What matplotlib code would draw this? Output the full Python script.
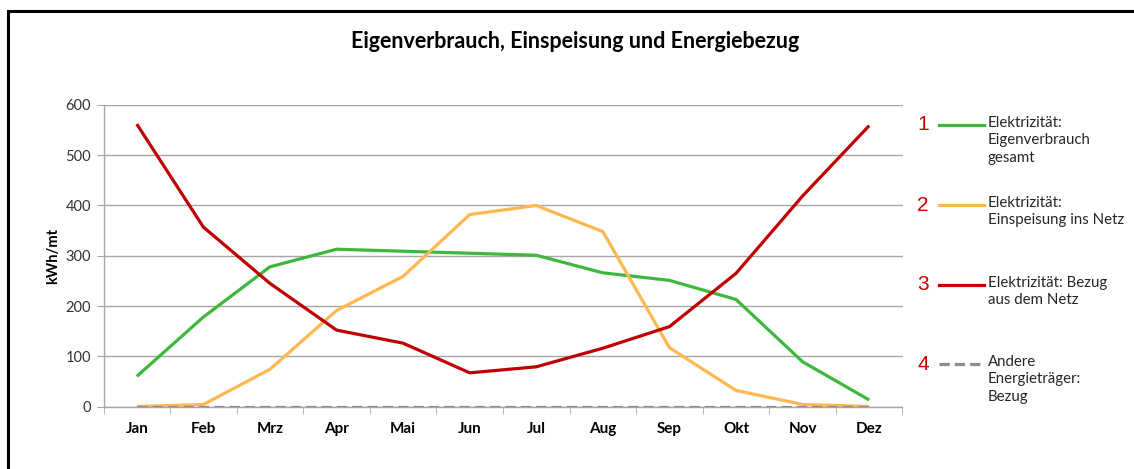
import matplotlib
matplotlib.use("Agg")
import matplotlib.pyplot as plt
from matplotlib.lines import Line2D
from matplotlib.patches import Rectangle
import numpy as np

plt.rcParams['font.family'] = ['Lato', 'DejaVu Sans']

months = ['Jan', 'Feb', 'Mrz', 'Apr', 'Mai', 'Jun', 'Jul', 'Aug', 'Sep', 'Okt', 'Nov', 'Dez']

eigenverbrauch = [60, 178, 278, 313, 309, 305, 301, 266, 251, 213, 89, 13]
einspeisung = [0, 4, 74, 191, 259, 382, 400, 348, 117, 32, 4, 0]
bezug_netz = [562, 357, 245, 152, 126, 67, 79, 116, 159, 265, 419, 559]
andere = [0, 0, 0, 0, 0, 0, 0, 0, 0, 0, 0, 0]

series_labels = [
    'Elektrizität:\nEigenverbrauch\ngesamt',
    'Elektrizität:\nEinspeisung ins Netz',
    'Elektrizität: Bezug\naus dem Netz',
    'Andere\nEnergieträger:\nBezug',
]
series_colors = ['#3db83d', '#ffb850', '#c00000', '#8c8c8c']
series_styles = ['-', '-', '-', (0, (3.2, 1.6))]

W, H = 1134, 469
fig = plt.figure(figsize=(W / 100, H / 100), dpi=100)

# outer frame
fig.patches.append(Rectangle((7.5 / W, -0.2), 1.5, (H - 11) / H + 0.2,
                             transform=fig.transFigure, fill=False,
                             edgecolor='black', linewidth=2.2))

ax = fig.add_axes([103.5 / W, 62.5 / H, 799 / W, 301.5 / H])
x = np.arange(len(months))

all_series = [eigenverbrauch, einspeisung, bezug_netz, andere]
for vals, col, ls in zip(all_series, series_colors, series_styles):
    ax.plot(x, vals, color=col, linestyle=ls, linewidth=2.3,
            solid_capstyle='butt', zorder=3)

ax.set_xlim(-0.5, len(months) - 0.5)
ax.set_ylim(0, 600)
ax.set_yticks(range(0, 601, 100))
ax.grid(axis='y', color='#a6a6a6', linewidth=1)
ax.set_axisbelow(True)

for s in ['top', 'right']:
    ax.spines[s].set_visible(False)
for s in ['left', 'bottom']:
    ax.spines[s].set_color('#a6a6a6')
    ax.spines[s].set_linewidth(1)

ax.set_xticks(x)
ax.set_xticklabels(months, fontsize=11, fontweight='bold')
ax.set_xticks(np.arange(-0.5, len(months), 1), minor=True)
ax.tick_params(axis='x', which='major', length=0, pad=11)
ax.tick_params(axis='x', which='minor', length=5, color='#a6a6a6')
ax.tick_params(axis='y', length=5, color='#a6a6a6', labelsize=10.5,
               labelcolor='#333333', pad=4)

ax.set_ylabel('kWh/mt', fontsize=10.5, fontweight='bold', va='center')
ax.yaxis.set_label_coords(-0.063, 0.5)

fig.text(575 / W, 1 - 42 / H, 'Eigenverbrauch, Einspeisung und Energiebezug',
         ha='center', va='center', fontsize=15.5, fontweight='bold')

# legend on the right
legend_y = [125, 205, 285, 364]
for i, (lab, col, ls, yy) in enumerate(zip(series_labels, series_colors,
                                           series_styles, legend_y)):
    yf = 1 - yy / H
    fig.text(923 / W, yf, str(i + 1), color='#cc0000', fontsize=15,
             ha='center', va='center', family='Liberation Sans')
    fig.add_artist(Line2D([939 / W, 984 / W], [yf, yf], color=col,
                          linestyle=ls, linewidth=2.3,
                          transform=fig.transFigure))
    fig.text(988 / W, 1 - (yy - 9) / H, lab, fontsize=10.8, color='#262626',
             ha='left', va='top', linespacing=1.3)

fig.savefig('out.png', dpi=100)
